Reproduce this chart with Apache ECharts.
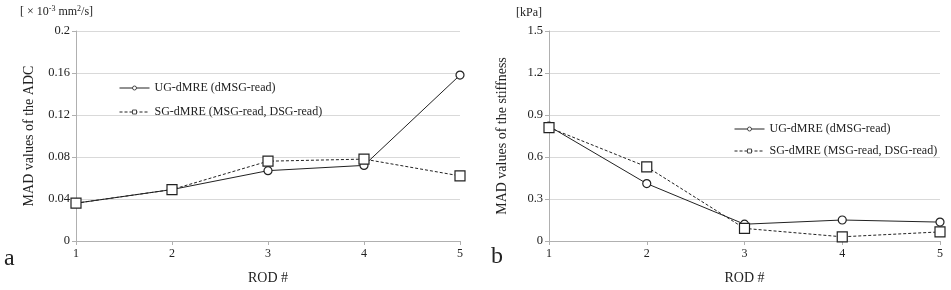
<!DOCTYPE html>
<html>
<head>
<meta charset="utf-8">
<script src="https://cdn.jsdelivr.net/npm/echarts@6/dist/echarts.min.js"></script>
<style>
  html, body { margin: 0; padding: 0; background: #fff; }
  #chart { width: 951px; height: 290px; }
</style>
</head>
<body>
<div id="chart"></div>
<script>
const rods = ['1', '2', '3', '4', '5'];
// panel a: MAD of ADC [x10^-3 mm2/s]
const adcUG = [0.036, 0.049, 0.067, 0.072, 0.158];
const adcSG = [0.036, 0.049, 0.076, 0.078, 0.062];
// panel b: MAD of stiffness [kPa]
const stiffUG = [0.82, 0.41, 0.12, 0.15, 0.135];
const stiffSG = [0.81, 0.53, 0.09, 0.03, 0.065];

const nameUG = 'UG-dMRE (dMSG-read)';
const nameSG = 'SG-dMRE (MSG-read, DSG-read)';

const font = '"Liberation Serif", "Times New Roman", serif';
const ink = '#222';

function xAxisFor(i) {
  return {
    type: 'category',
    gridIndex: i,
    data: rods,
    boundaryGap: false,
    axisLine: { lineStyle: { color: '#b0b0b0' } },
    axisTick: { show: true, alignWithLabel: true, length: 4, lineStyle: { color: '#b0b0b0' } },
    axisLabel: { color: ink, fontFamily: font, fontSize: 12, margin: 7 },
    name: 'ROD #',
    nameLocation: 'middle',
    nameGap: 30,
    nameTextStyle: { color: ink, fontFamily: font, fontSize: 14 }
  };
}

function yAxisFor(i, max, step, title) {
  return {
    type: 'value',
    gridIndex: i,
    min: 0,
    max: max,
    interval: step,
    axisLine: { show: true, lineStyle: { color: '#b0b0b0' } },
    axisTick: { show: true, length: 4, lineStyle: { color: '#b0b0b0' } },
    splitLine: { lineStyle: { color: '#d9d9d9' } },
    axisLabel: { color: ink, fontFamily: font, fontSize: 12.5, margin: 6 },
    name: title,
    nameLocation: 'middle',
    nameGap: 40,
    nameTextStyle: { color: ink, fontFamily: font, fontSize: 14 }
  };
}

function lineSeries(name, data, i, dashed) {
  return {
    name: name,
    type: 'line',
    xAxisIndex: i,
    yAxisIndex: i,
    data: data,
    symbol: dashed ? 'rect' : 'circle',
    symbolSize: dashed ? 10 : 8,
    showSymbol: true,
    itemStyle: { color: '#fff', borderColor: ink, borderWidth: 1.2 },
    lineStyle: { color: ink, width: 1, type: dashed ? [3, 2] : 'solid' },
    emphasis: { disabled: true },
    z: dashed ? 3 : 2
  };
}

function legendFor(left, top, gap) {
  return {
    data: [
      { name: nameUG, itemStyle: { color: '#fff', borderColor: ink, borderWidth: 0.8 }, lineStyle: { color: ink, width: 1 } },
      { name: nameSG, itemStyle: { color: '#fff', borderColor: ink, borderWidth: 0.8 }, lineStyle: { color: ink, width: 1, type: [3, 2] } }
    ],
    orient: 'vertical',
    left: left,
    top: top,
    itemGap: gap,
    itemWidth: 30,
    itemHeight: 5,
    selectedMode: false,
    textStyle: { color: ink, fontFamily: font, fontSize: 12 }
  };
}

const chart = echarts.init(document.getElementById('chart'));
chart.setOption({
  animation: false,
  backgroundColor: '#fff',
  grid: [
    { left: 76, right: 491, top: 31, bottom: 46 },
    { left: 549, right: 11, top: 31, bottom: 46 }
  ],
  legend: [
    legendFor(114, 77, 12),
    legendFor(729, 118, 10)
  ],
  xAxis: [xAxisFor(0), xAxisFor(1)],
  yAxis: [
    yAxisFor(0, 0.2, 0.04, 'MAD values of the ADC'),
    yAxisFor(1, 1.5, 0.3, 'MAD values of the stiffness')
  ],
  series: [
    lineSeries(nameUG, adcUG, 0, false),
    lineSeries(nameSG, adcSG, 0, true),
    lineSeries(nameUG, stiffUG, 1, false),
    lineSeries(nameSG, stiffSG, 1, true)
  ],
  graphic: [
    {
      type: 'text', left: 20, top: 5,
      style: {
        text: '{n|[ × 10}{s|-3}{n| mm}{s|2}{n|/s]}',
        rich: {
          n: { fontFamily: font, fontSize: 12, fill: ink },
          s: { fontFamily: font, fontSize: 8, fill: ink, verticalAlign: 'top', padding: [0, 0, 6, 0] }
        }
      }
    },
    {
      type: 'text', left: 516, top: 7,
      style: { text: '[kPa]', font: '12px ' + font, fill: ink }
    },
    {
      type: 'text', left: 4, top: 247,
      style: { text: 'a', font: '24px ' + font, fill: ink }
    },
    {
      type: 'text', left: 491, top: 245,
      style: { text: 'b', font: '24px ' + font, fill: ink }
    }
  ]
});
</script>
</body>
</html>
